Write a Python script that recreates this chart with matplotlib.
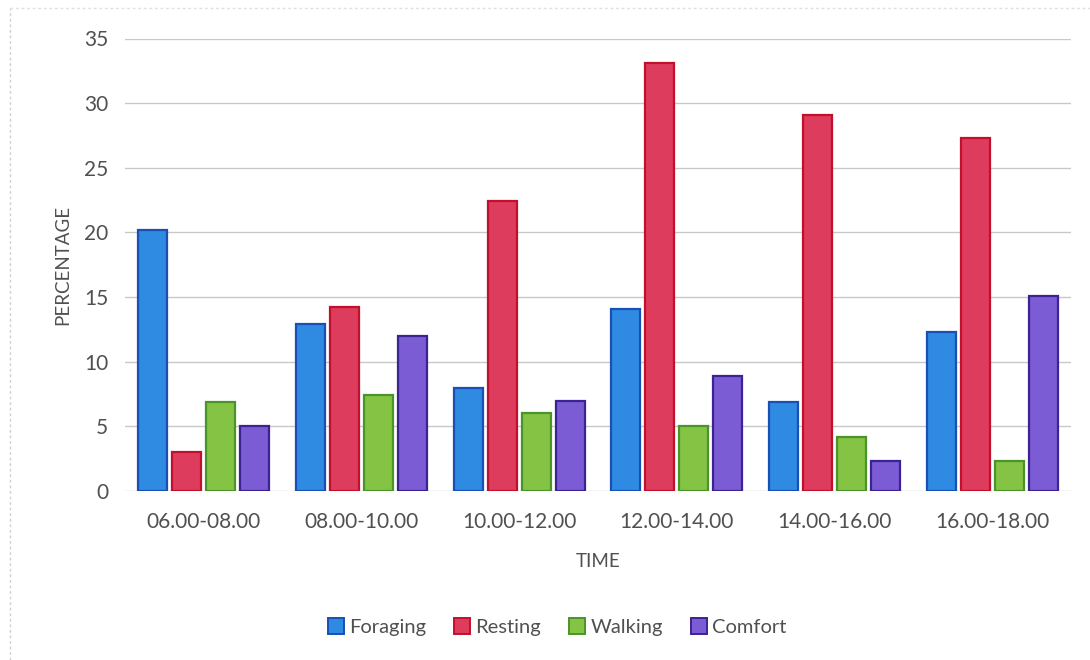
import matplotlib
matplotlib.use("Agg")
import matplotlib.pyplot as plt
import numpy as np
from matplotlib.lines import Line2D
from matplotlib.patches import Patch

# Activity budget by time of day
periods = ["06.00-08.00", "08.00-10.00", "10.00-12.00", "12.00-14.00", "14.00-16.00", "16.00-18.00"]
foraging = [20.2, 12.9, 8.0, 14.1, 6.9, 12.3]
resting = [3.0, 14.2, 22.4, 33.1, 29.1, 27.3]
walking = [6.9, 7.4, 6.0, 5.0, 4.2, 2.3]
comfort = [5.0, 12.0, 7.0, 8.9, 2.3, 15.1]

series_names = ["Foraging", "Resting", "Walking", "Comfort"]
series_values = [foraging, resting, walking, comfort]
fills = ["#2f8ae2", "#de3c5c", "#84c344", "#7c5cd4"]
edges = ["#1a4fb5", "#c2102c", "#4a952a", "#3b2394"]

plt.rcParams["font.family"] = ["Lato", "DejaVu Sans"]
text_color = "#505050"

fig = plt.figure(figsize=(10.9, 6.6), dpi=100)
ax = fig.add_axes([125 / 1090, 1 - 491 / 660, (1071 - 125) / 1090, (491 - 38.5) / 660])

x = np.arange(len(periods))
pitch = 0.216
width = 0.184
for i, (name, vals) in enumerate(zip(series_names, series_values)):
    offs = (i - 1.5) * pitch
    ax.bar(x + offs, vals, width=width, color=fills[i], edgecolor=edges[i],
           linewidth=1.6, label=name, zorder=3)

ax.set_xlim(-0.5, len(periods) - 0.5)
ax.set_ylim(0, 35)
ax.set_yticks(np.arange(0, 36, 5))
ax.set_xticks(x)
ax.set_xticklabels(periods)
ax.yaxis.grid(True, color="#c8c8c8", linewidth=1.0, zorder=0)
ax.set_axisbelow(True)
for s in ax.spines.values():
    s.set_visible(False)
ax.tick_params(axis="both", length=0, labelsize=15, colors=text_color)
ax.tick_params(axis="y", pad=12)
ax.tick_params(axis="x", pad=15)

ax.set_ylabel("PERCENTAGE", fontsize=13.5, color=text_color, labelpad=9)
ax.set_xlabel("TIME", fontsize=13.5, color=text_color, labelpad=15)

handles = [Patch(facecolor=fills[i], edgecolor=edges[i], linewidth=1.4) for i in range(4)]
fig.legend(handles, series_names, loc="center", bbox_to_anchor=(557 / 1090, 1 - 627 / 660),
           ncol=4, frameon=False, fontsize=14.5, handlelength=0.8, handleheight=0.8,
           handletextpad=0.25, columnspacing=1.4, labelcolor=text_color)

# faint outer frame
fig.add_artist(Line2D([10 / 1090, 10 / 1090], [0, 1 - 8 / 660], transform=fig.transFigure,
                      color="#d0d0d0", linewidth=1, linestyle=(0, (2, 2))))
fig.add_artist(Line2D([10 / 1090, 1], [1 - 8 / 660, 1 - 8 / 660], transform=fig.transFigure,
                      color="#e0e0e0", linewidth=1, linestyle=(0, (2, 2))))

fig.savefig("out.png", dpi=100, facecolor="white")
